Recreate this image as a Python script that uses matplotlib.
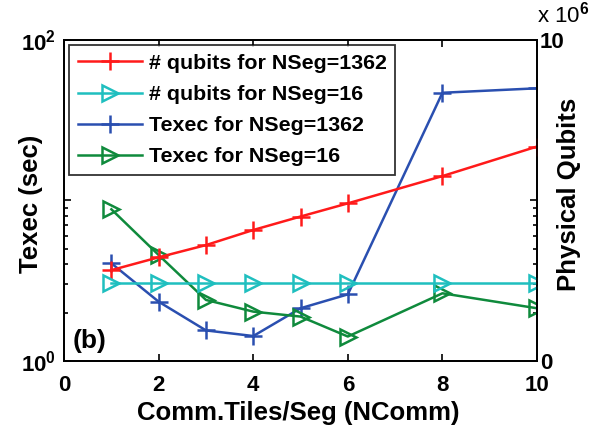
import matplotlib
matplotlib.use("Agg")
import matplotlib.pyplot as plt
from matplotlib.ticker import FixedLocator, NullFormatter

plt.rcParams['font.family'] = ['Liberation Sans', 'DejaVu Sans']
plt.rcParams['font.weight'] = 'bold'
plt.rcParams['mathtext.fontset'] = 'custom'
plt.rcParams['mathtext.rm'] = 'Liberation Sans:bold'
plt.rcParams['mathtext.it'] = 'Liberation Sans:bold'
plt.rcParams['mathtext.bf'] = 'Liberation Sans:bold'
plt.rcParams['mathtext.default'] = 'bf'

# Data
ncomm = [1, 2, 3, 4, 5, 6, 8, 10]
qubits_1362 = [2.83e6, 3.23e6, 3.61e6, 4.08e6, 4.50e6, 4.91e6, 5.76e6, 6.68e6]
qubits_16 = [2.44e6, 2.44e6, 2.44e6, 2.44e6, 2.44e6, 2.44e6, 2.44e6, 2.44e6]
texec_1362 = [4.06, 2.34, 1.55, 1.43, 2.13, 2.60, 46.9, 50.0]
texec_16 = [8.81, 4.57, 2.40, 2.03, 1.89, 1.42, 2.64, 2.13]

labels = ['# qubits for NSeg=1362', '# qubits for NSeg=16',
          'Texec for NSeg=1362', 'Texec for NSeg=16']
c_red, c_cyan, c_blue, c_green = '#ff1a1a', '#1fbfbf', '#2a4fb0', '#0f8a3c'

fig = plt.figure(figsize=(5.99, 4.37), dpi=100)
ax = fig.add_axes([0.107, 0.174, 0.7895, 0.7345])
ax2 = ax.twinx()

lw = 1.8
l3, = ax.plot(ncomm, texec_1362, color=c_blue, lw=lw, marker='+', ms=13, mew=1.8)
l4, = ax.plot(ncomm, texec_16, color=c_green, lw=lw, marker='>', ms=11, mew=1.8, mfc='none')
l1, = ax2.plot(ncomm, qubits_1362, color=c_red, lw=lw, marker='+', ms=13, mew=1.8)
l2, = ax2.plot(ncomm, qubits_16, color=c_cyan, lw=lw, marker='>', ms=11, mew=1.8, mfc='none')

ax.set_yscale('log')
ax.set_xlim(0, 10)
ax.set_ylim(1, 100)
ax.set_xticks([0, 2, 4, 6, 8, 10])
ax.set_xticklabels(['0', '2', '4', '6', '8', '10'])
ax.yaxis.set_major_locator(FixedLocator([1, 10, 100]))
ax.set_yticklabels(['$10^0$', '', '$10^2$'])
ax.yaxis.set_minor_locator(FixedLocator([2, 3, 4, 5, 6, 7, 8, 9]))
ax.yaxis.set_minor_formatter(NullFormatter())
ax.tick_params(axis='both', which='both', direction='in', labelsize=16,
               top=True, right=True, width=1.2)
ax.tick_params(axis='both', which='major', length=5)
ax.tick_params(axis='both', which='minor', length=3)
ax.tick_params(axis='x', pad=10)
ax.tick_params(axis='y', pad=6)

ax2.set_ylim(0, 10e6)
ax2.set_yticks([0, 10e6])
ax2.set_yticklabels(['0', '10'])
ax2.tick_params(axis='y', direction='in', labelsize=16, length=5, width=1.2, pad=2)
ax2.text(1.0, 1.04, r'x 10$^{6}$', transform=ax2.transAxes, fontsize=16,
         ha='left', va='bottom', fontweight='normal')

for a in (ax, ax2):
    for s in a.spines.values():
        s.set_linewidth(1.3)

ax.set_xlabel('Comm.Tiles/Seg (NComm)', fontsize=18.5, fontweight='bold')
ax.xaxis.set_label_coords(0.495, -0.125)
ax.set_ylabel('Texec (sec)', fontsize=18.5, fontweight='bold')
ax.yaxis.set_label_coords(-0.045, 0.49)
ax2.set_ylabel('Physical Qubits', fontsize=18.5, fontweight='bold')
ax2.yaxis.set_label_coords(1.042, 0.52)

ax.text(0.19, 1.33, '(b)', fontsize=19, fontweight='bold', ha='left', va='center')

leg = ax2.legend([l1, l2, l3, l4], labels, loc='upper left',
                 bbox_to_anchor=(0.0, 1.0), fontsize=15.4, frameon=True,
                 fancybox=False, edgecolor='black', handlelength=3.0,
                 handletextpad=0.3, borderpad=0.4, labelspacing=0.57,
                 borderaxespad=0.25)
leg.get_frame().set_linewidth(1.3)
for t in leg.get_texts():
    t.set_fontweight('bold')

fig.savefig('out.png', dpi=100)
